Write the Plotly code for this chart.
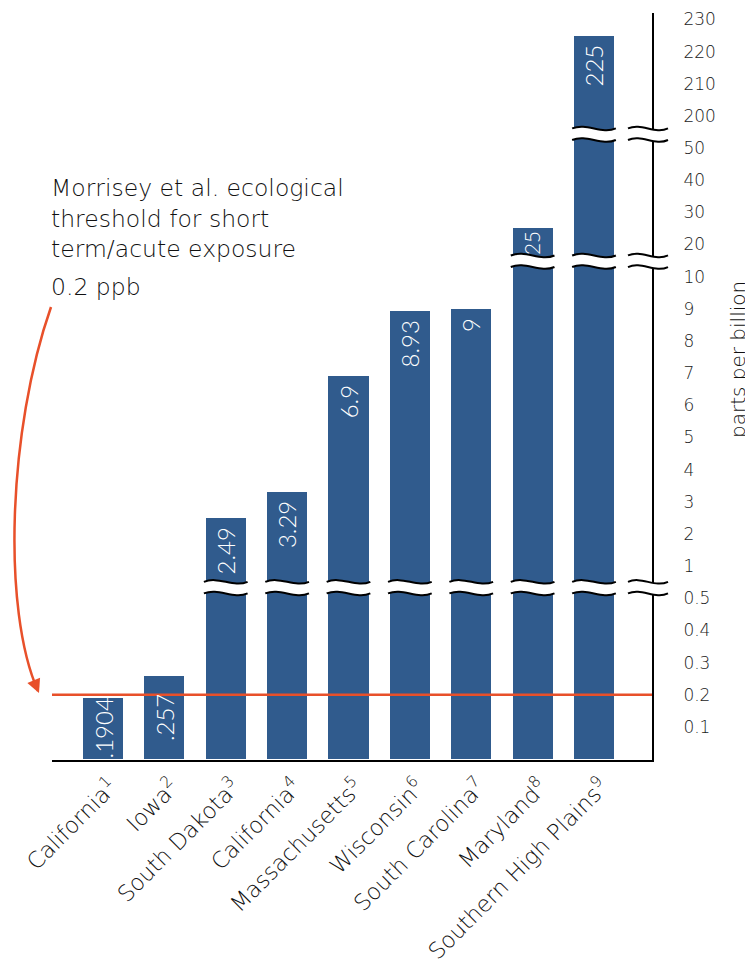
import numpy as np
import plotly.graph_objects as go

# ---------------- data ----------------
categories = ["California", "Iowa", "South Dakota", "California", "Massachusetts",
              "Wisconsin", "South Carolina", "Maryland", "Southern High Plains"]
footnotes = ["1", "2", "3", "4", "5", "6", "7", "8", "9"]
values = [0.1904, 0.257, 2.49, 3.29, 6.9, 8.93, 9, 25, 225]
value_labels = [".1904", ".257", "2.49", "3.29", "6.9", "8.93", "9", "25", "225"]
tick_values = [0.1, 0.2, 0.3, 0.4, 0.5, 1, 2, 3, 4, 5, 6, 7, 8, 9, 10,
               20, 30, 40, 50, 200, 210, 220, 230]
tick_labels = ["0.1", "0.2", "0.3", "0.4", "0.5", "1", "2", "3", "4", "5", "6", "7",
               "8", "9", "10", "20", "30", "40", "50", "200", "210", "220", "230"]
threshold = 0.2
threshold_text = "Morrisey et al. ecological<br>threshold for short<br>term/acute exposure"
threshold_label = "0.2 ppb"
axis_title = "parts per billion"

# ---------------- broken scale ----------------
scale_v = [0, 0.5, 1, 10, 50, 200, 230]
scale_p = [0, 5, 6, 15, 19, 20, 23]
break_ranges = [(0.5, 1), (10, 20), (50, 200)]
break_pos = [5.33, 15.48, 19.43]


def T(v):
    return float(np.interp(v, scale_v, scale_p))


# ---------------- layout geometry ----------------
OFF = 8                      # page body margin of the html page
PAGE_W, PAGE_H = 753, 964
PL, PR, PT, PB = 52, 652, 13, 760   # plot area in page pixels
W, H = PAGE_W - OFF, PAGE_H - OFF
ML, MT = PL - OFF, PT - OFF
PW, PH = PR - PL, PB - PT
MR = W - ML - PW
MB = H - MT - PH
XR = [-0.831, 8.945]
YR = [-0.03, 23.2]
PXU = PH / (YR[1] - YR[0])
BAR_W = 0.652
BLUE = "#305b8d"
RED = "#e8502a"
INK = "#111111"
FONT = "DejaVu Sans"
VFONT = "Lato"
TW = 300
VSIZE = 24
HALF_GAP = 0.18
AMP = 0.19


def paper(px, py):
    return ((px - PL) / PW, (PB - py) / PH)


x = list(range(len(categories)))
y = [T(v) for v in values]
ticktext = [f"{c}<sup>{n}</sup>" for c, n in zip(categories, footnotes)]

fig = go.Figure()
fig.add_trace(go.Bar(x=x, y=y, width=BAR_W, marker=dict(color=BLUE, line=dict(width=0)),
                     hoverinfo="skip", showlegend=False))

shapes = []


def wave(x0, x1, yc):
    w = x1 - x0
    return f"M {x0},{yc} C {x0 + w / 3},{yc + AMP} {x0 + 2 * w / 3},{yc - AMP} {x1},{yc}"


def add_break(x0, x1, yc, xref):
    top = yc + HALF_GAP
    bot = yc - HALF_GAP
    w = x1 - x0
    fill = (f"M {x0},{top} C {x0 + w / 3},{top + AMP} {x0 + 2 * w / 3},{top - AMP} {x1},{top} "
            f"L {x1},{bot} C {x0 + 2 * w / 3},{bot - AMP} {x0 + w / 3},{bot + AMP} {x0},{bot} Z")
    shapes.append(dict(type="path", path=fill, xref=xref, yref="y", fillcolor="white",
                       line=dict(width=0), layer="above"))
    for yy in (top, bot):
        shapes.append(dict(type="path", path=wave(x0, x1, yy), xref=xref, yref="y",
                           fillcolor="rgba(0,0,0,0)", line=dict(color="black", width=2),
                           layer="above"))


# threshold line
shapes.append(dict(type="line", xref="paper", yref="y", x0=0, x1=1, y0=T(threshold),
                   y1=T(threshold), line=dict(color=RED, width=2.5), layer="above"))

# breaks on bars and on axis
for (lo, hi), bp in zip(break_ranges, break_pos):
    for i, v in enumerate(values):
        if v > hi:
            add_break(i - BAR_W / 2 - 0.03, i + BAR_W / 2 + 0.03, bp, "x")
    ax0, _ = paper(628, 0)
    ax1, _ = paper(668, 0)
    add_break(ax0, ax1, bp, "paper")

# curved arrow
p0 = paper(51, 307)
p1 = paper(8, 430)
p2 = paper(2, 610)
p3 = paper(38, 691)
shapes.append(dict(type="path", xref="paper", yref="paper",
                   path=f"M {p0[0]},{p0[1]} C {p1[0]},{p1[1]} {p2[0]},{p2[1]} {p3[0]},{p3[1]}",
                   fillcolor="rgba(0,0,0,0)", line=dict(color=RED, width=2.5), layer="above"))

annotations = []
tip = paper(39, 693)
annotations.append(dict(x=tip[0], y=tip[1], xref="paper", yref="paper", text="",
                        showarrow=True, arrowhead=2, arrowsize=1.1, arrowwidth=2.5,
                        arrowcolor=RED, ax=-5, ay=-12))

# value labels
for i, (v, lab) in enumerate(zip(values, value_labels)):
    p = T(v)
    if p < 3:
        annotations.append(dict(x=i, y=p / 2, xref="x", yref="y", text=lab, showarrow=False,
                                textangle=-90, xanchor="center", yanchor="middle",
                                font=dict(family=VFONT, size=VSIZE, color="white", weight=TW)))
    else:
        below = [b for b in break_pos if b < p]
        room = (p - (max(below) + HALF_GAP)) * PXU if below else p * PXU
        pad = -7 if room > 40 else -1
        size = min(VSIZE, (room - 3) / (0.58 * len(lab)))
        annotations.append(dict(x=i, y=p, xref="x", yref="y", text=lab, showarrow=False,
                                textangle=-90, xanchor="center", yanchor="top", yshift=pad,
                                font=dict(family=VFONT, size=size, color="white", weight=TW)))

# threshold texts
tfont = dict(family=FONT, size=23.5, color=INK, weight=TW)
tx, ty = paper(49, 172)
annotations.append(dict(x=tx, y=ty, xref="paper", yref="paper", text=threshold_text,
                        showarrow=False, xanchor="left", yanchor="top", align="left",
                        font=tfont))
lx, ly = paper(49, 287)
annotations.append(dict(x=lx, y=ly, xref="paper", yref="paper", text=threshold_label,
                        showarrow=False, xanchor="left", yanchor="middle", align="left",
                        font=tfont))
# axis title
atx, aty = paper(738, 360)
annotations.append(dict(x=atx, y=aty, xref="paper", yref="paper", text=axis_title,
                        showarrow=False, textangle=-90, xanchor="center", yanchor="middle",
                        font=dict(family=FONT, size=20, color=INK, weight=TW)))

fig.update_layout(
    width=W, height=H,
    margin=dict(l=ML, r=MR, t=MT, b=MB, pad=0, autoexpand=False),
    paper_bgcolor="white", plot_bgcolor="white",
    font=dict(family=FONT, color=INK),
    shapes=shapes, annotations=annotations,
    bargap=0,
    xaxis=dict(range=XR, tickmode="array", tickvals=x, ticktext=ticktext, tickangle=-45,
               tickfont=dict(family=FONT, size=22.5, color=INK, weight=TW),
               ticklabelshift=8, ticklabelstandoff=3,
               showgrid=False, zeroline=False, showline=True, linecolor="black", linewidth=2,
               ticks="", fixedrange=True, automargin=False),
    yaxis=dict(range=YR, side="right", tickmode="array",
               tickvals=[T(t) for t in tick_values], ticktext=tick_labels,
               tickfont=dict(family=FONT, size=17, color="#1a1a1a", weight=TW),
               showgrid=False, zeroline=False, showline=True, linecolor="black", linewidth=2,
               ticks="", ticklabelstandoff=26, fixedrange=True, automargin=False),
)

fig.write_html("out.html")
